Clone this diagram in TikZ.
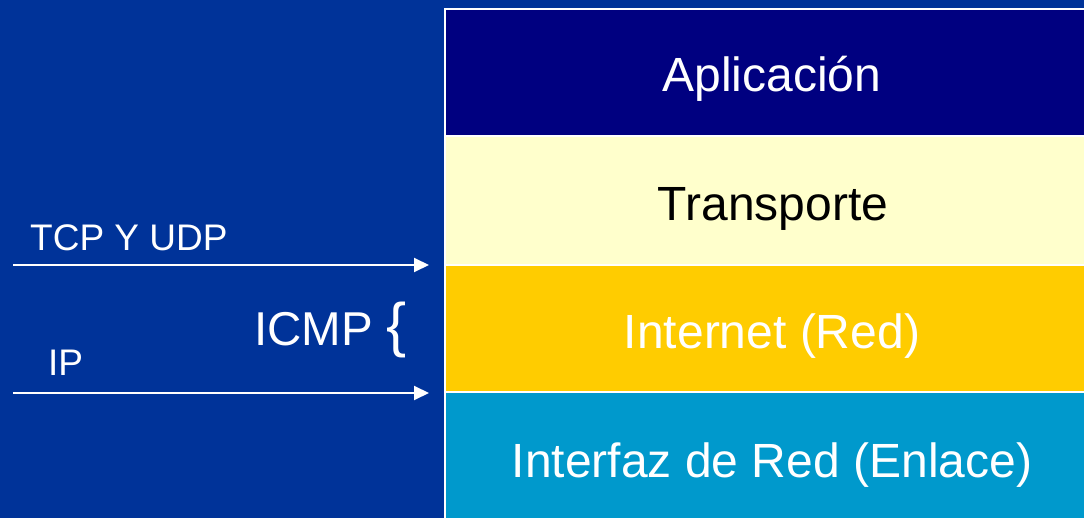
\documentclass[tikz,border=0pt]{standalone}
\usepackage{fontspec}
\setmainfont{Liberation Sans}
\usetikzlibrary{arrows.meta}

\definecolor{bgblue}{RGB}{0,51,153}
\definecolor{appnavy}{RGB}{0,0,128}
\definecolor{transyellow}{RGB}{255,255,204}
\definecolor{netgold}{RGB}{255,204,0}
\definecolor{linkcyan}{RGB}{0,153,204}

\tikzset{
    layertext/.style={anchor=base, inner sep=0pt, font=\fontsize{48}{57}\selectfont},
    sidetext/.style={anchor=base west, inner sep=0pt, text=white, font=\fontsize{37}{44}\selectfont},
    arrow/.style={draw=white, line width=2pt, -{Triangle[length=15pt,width=14pt]}}
}

\begin{document}
\begin{tikzpicture}[x=1pt, y=-1pt]

    \fill[bgblue] (0, 0) rectangle (1084, 518);
    \useasboundingbox (0, 0) rectangle (1084, 518);

    % layers
    \fill[white] (444, 8) rectangle (1084, 518);
    \fill[appnavy] (446, 10) rectangle (1084, 135);
    \fill[transyellow] (446, 137) rectangle (1084, 264);
    \fill[netgold] (446, 266) rectangle (1084, 391);
    \fill[linkcyan] (446, 393) rectangle (1084, 518);

    \node[layertext, text=white] (app) at (772, 92) {Aplicación};
    \node[layertext, text=black] (trans) at (773, 221) {Transporte};
    \node[layertext, text=white] (net) at (772, 349) {Internet (Red)};
    \node[layertext, text=white] (link) at (772, 477) {Interfaz de Red (Enlace)};

    % protocols
    \node[sidetext] (tcp) at (30, 251) {TCP Y UDP};
    \node[sidetext] (ip) at (48, 376) {IP};
    \node[layertext, anchor=base west, text=white, font=\fontsize{47.5}{56}\selectfont] (icmp) at (254, 346) {ICMP};
    \node[anchor=base west, inner sep=0pt, text=white, font=\fontsize{60}{70}\selectfont] (brace) at (386, 346) {\{};

    \coordinate (tcpstart) at (13, 265);
    \coordinate (tcpend) at (429, 265);
    \coordinate (ipstart) at (13, 393);
    \coordinate (ipend) at (429, 393);
    \draw[arrow] (tcpstart) -- (tcpend);
    \draw[arrow] (ipstart) -- (ipend);

\end{tikzpicture}
\end{document}
